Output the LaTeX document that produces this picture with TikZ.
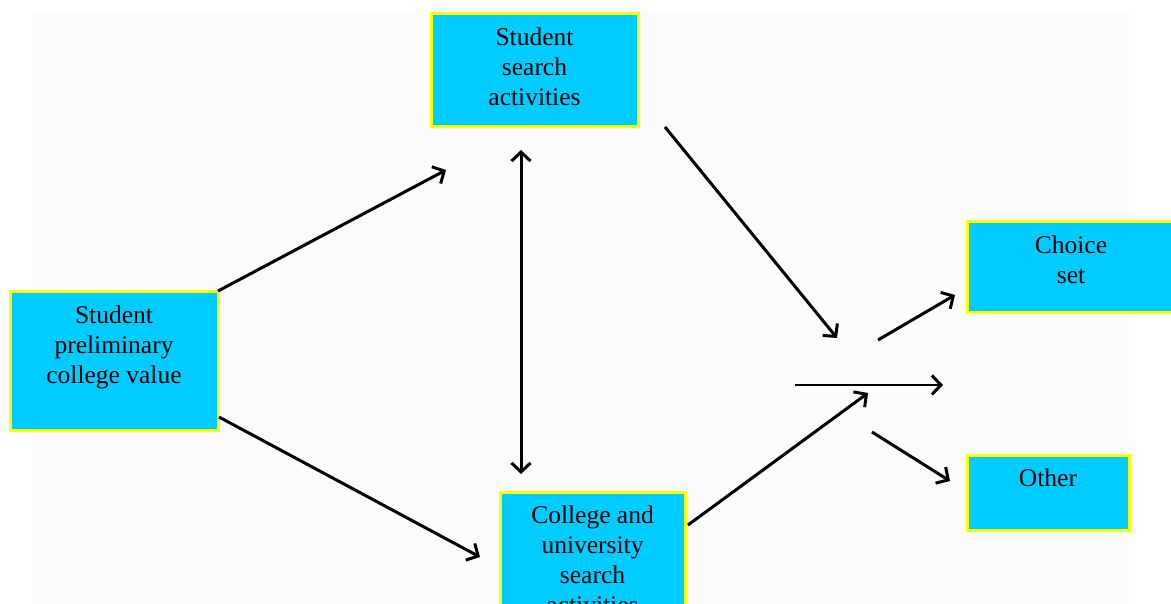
\documentclass[tikz,border=0pt]{standalone}
\usepackage{fontspec}
\setmainfont{Liberation Serif}
\usetikzlibrary{arrows.meta}
\definecolor{boxfill}{HTML}{00CCFF}
\definecolor{boxedge}{HTML}{FFFF00}
\definecolor{paper}{HTML}{FCFCFC}

\begin{document}
\begin{tikzpicture}[x=1pt,y=-1pt,
  box/.style={draw=boxedge, line width=3pt, fill=boxfill, inner sep=0pt, anchor=north west},
  % the base anchor sits on the last line, so shift by the number of lines
  boxtext/.style={font=\fontsize{25.5}{30}\selectfont, align=center, anchor=base, inner sep=0pt, yshift=-33pt-30pt*(#1-1)},
  barb/.style={Straight Barb[length=9pt, width=19pt, line width=3pt]},
  flow/.style={line width=3pt, -{Straight Barb[length=9pt, width=19pt, line width=3pt]}},
  both/.style={line width=3pt, {Straight Barb[length=9pt, width=19pt, line width=3pt]}-{Straight Barb[length=9pt, width=19pt, line width=3pt]}},
  thin/.style={line width=1.6pt, -{Straight Barb[length=9pt, width=19pt, line width=3pt]}},
]
\useasboundingbox (0,0) rectangle (1171,604);
\clip (0,0) rectangle (1171,604);
\fill[white] (0,0) rectangle (1171,604);
\fill[paper] (31,10) rectangle (1135,604);

% boxes
\node[box, minimum width=207pt, minimum height=113pt] (ssa) at (429.5,12.5) {};
\node[box, minimum width=208pt, minimum height=138pt] (pcv) at (8.5,290.5) {};
\node[box, minimum width=185pt, minimum height=150pt] (cus) at (498.5,490.5) {};
\node[box, minimum width=209pt, minimum height=91pt] (cho) at (965.5,220.5) {};
\node[box, minimum width=162pt, minimum height=75pt] (oth) at (965.5,453.5) {};

% box texts
\node[boxtext=3] (ssa-t) at (ssa.north) {Student\\search\\activities};
\node[boxtext=3] (pcv-t) at (pcv.north) {Student\\preliminary\\college value};
\node[boxtext=4] (cus-t) at (cus.north) {College and\\university\\search\\activities};
\node[boxtext=2] (cho-t) at ([xshift=-0.5pt]cho.north) {Choice\\set};
\node[boxtext=1] (oth-t) at (oth.north) {Other};

% connector ends
\coordinate (p1) at (218,291);
\coordinate (p2) at (219,417);
\coordinate (t1) at (446,170);
\coordinate (b1) at (480,557);
\coordinate (v1) at (521,150);
\coordinate (v2) at (521,474);
\coordinate (s1) at (665,127);
\coordinate (h1) at (837,338);
\coordinate (c1) at (688,525);
\coordinate (h2) at (868,393);
\coordinate (m1) at (795,385);
\coordinate (m2) at (943,385);
\coordinate (o1) at (878,340);
\coordinate (o2) at (955,295);
\coordinate (o3) at (872,432);
\coordinate (o4) at (950,481);

% connectors
\draw[flow] (p1) -- (t1);
\draw[flow] (p2) -- (b1);
\draw[both] (v1) -- (v2);
\draw[flow] (s1) -- (h1);
\draw[flow] (c1) -- (h2);
\draw[thin] (m1) -- (m2);
\draw[flow] (o1) -- (o2);
\draw[flow] (o3) -- (o4);
\end{tikzpicture}
\end{document}
